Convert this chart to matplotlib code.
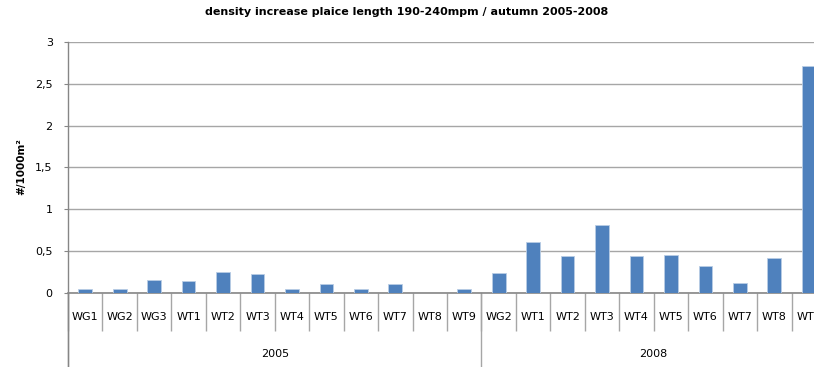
import matplotlib
matplotlib.use('Agg')
import matplotlib.pyplot as plt
import numpy as np

# survey stations per year and density increase (#/1000m2)
years = ['2005', '2008']
stations_2005 = ['WG1', 'WG2', 'WG3', 'WT1', 'WT2', 'WT3', 'WT4', 'WT5', 'WT6', 'WT7', 'WT8', 'WT9']
stations_2008 = ['WG2', 'WT1', 'WT2', 'WT3', 'WT4', 'WT5', 'WT6', 'WT7', 'WT8', 'WT9']
density_2005 = [0.04, 0.04, 0.15, 0.14, 0.25, 0.22, 0.04, 0.11, 0.04, 0.11, 0.0, 0.04]
density_2008 = [0.24, 0.61, 0.44, 0.81, 0.44, 0.45, 0.32, 0.12, 0.41, 2.71]

labels = stations_2005 + stations_2008
values = density_2005 + density_2008
x = np.arange(len(labels))

W, H = 814, 367
fig = plt.figure(figsize=(W / 100, H / 100), dpi=100)
# plot area runs a little past the right edge of the image
left, right, top, bottom = 68, 826, 42, 292.7
ax = fig.add_axes([left / W, 1 - bottom / H, (right - left) / W, (bottom - top) / H])

grid_c = '#a6a6a6'
ax.bar(x, values, width=0.4, color='#4f81bd', edgecolor='#b9cde5', linewidth=0.6, zorder=3)

ax.set_xlim(-0.5, len(labels) - 0.5)
ax.set_ylim(0, 3)
ax.set_yticks(np.arange(0, 3.01, 0.5))
ax.set_yticklabels(['0', '0,5', '1', '1,5', '2', '2,5', '3'])
ax.yaxis.grid(True, color=grid_c, linewidth=1.0, zorder=0)

for s in ['top', 'right']:
    ax.spines[s].set_visible(False)
ax.spines['left'].set_color('#868686')
ax.spines['bottom'].set_color('#868686')
ax.spines['left'].set_linewidth(1.0)
ax.spines['bottom'].set_linewidth(1.2)

ax.tick_params(axis='y', length=3, color='#868686', labelsize=8, pad=8)
ax.set_xticks(x)
ax.set_xticklabels(labels, fontsize=8)
ax.tick_params(axis='x', which='major', length=0, pad=14)
ax.set_xticks(np.arange(-0.5, len(labels)), minor=True)
ax.tick_params(axis='x', which='minor', length=27, color='#a6a6a6', width=1.0)

# year group separators and labels below the category row
tr = ax.get_xaxis_transform()
n05 = len(stations_2005)
for xb in [-0.5, n05 - 0.5]:
    ax.plot([xb, xb], [0, -0.4], transform=tr, color='#a6a6a6', lw=1.0, clip_on=False)
ax.plot([-0.5, -0.5], [0, -0.4], transform=tr, color='#868686', lw=1.0, clip_on=False)
ax.text((n05 - 1) / 2, -0.243, years[0], transform=tr, ha='center', va='center', fontsize=8)
ax.text(n05 + (len(stations_2008) - 1) / 2, -0.243, years[1], transform=tr,
        ha='center', va='center', fontsize=8)

fig.text(21 / W, 1 - 167 / H, '#/1000m²', rotation=90, ha='center', va='center',
         fontsize=7.5, fontweight='bold')
fig.text(407 / W, 1 - 12 / H, 'density increase plaice length 190-240mpm / autumn 2005-2008',
         ha='center', va='center', fontsize=8, fontweight='bold')

fig.savefig('out.png', dpi=100)
